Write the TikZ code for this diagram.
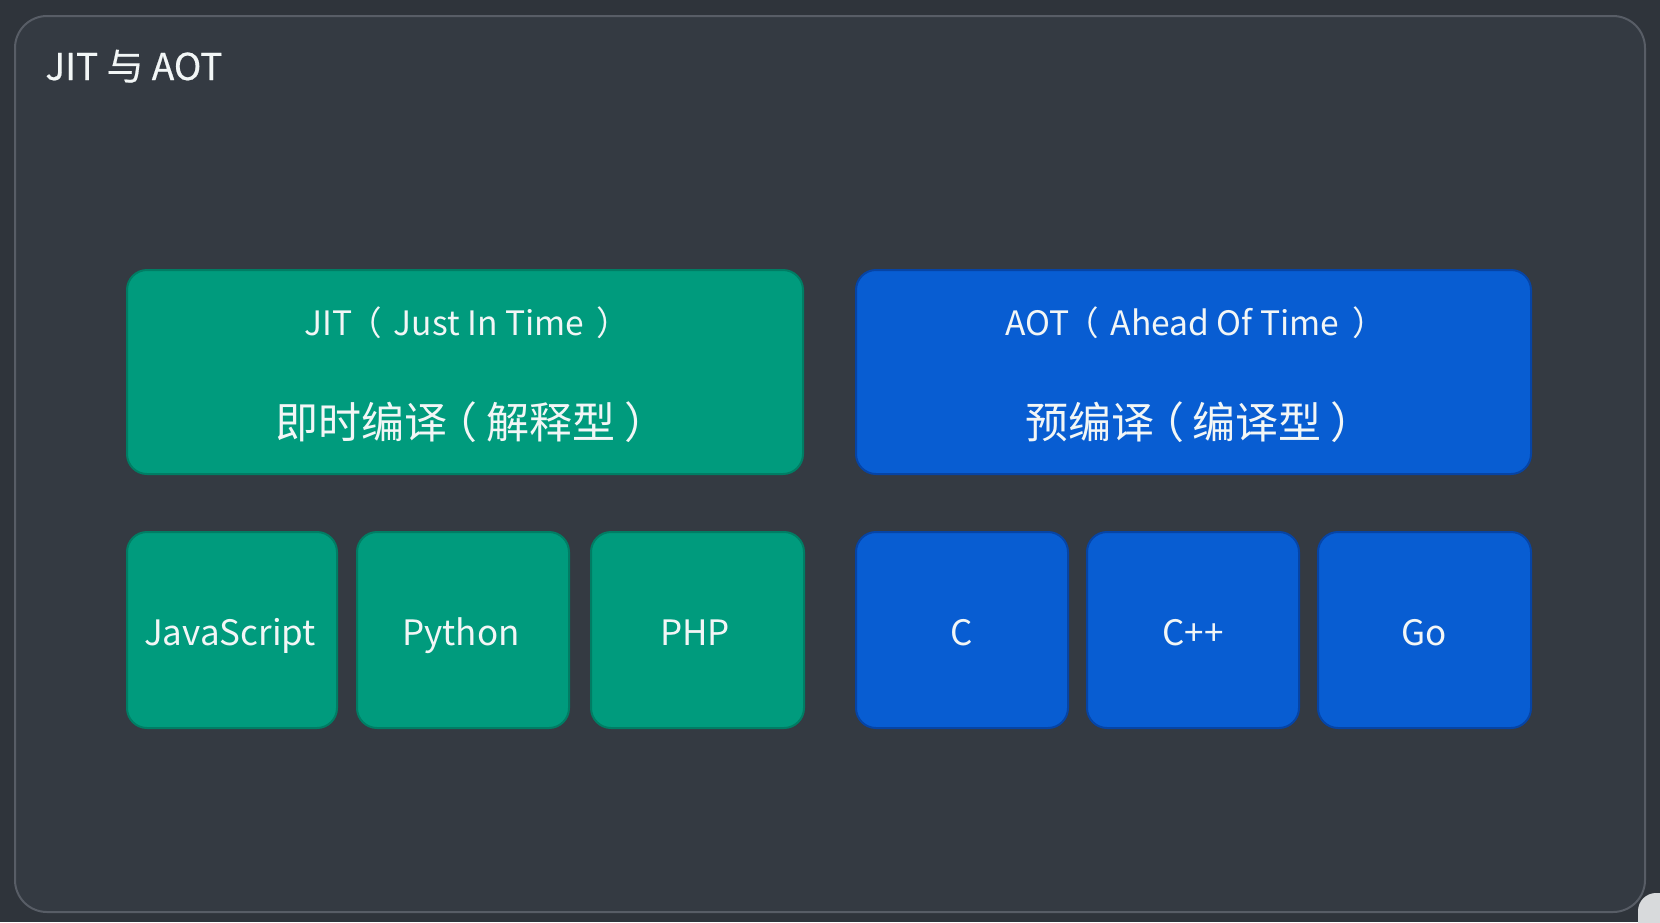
\documentclass[tikz,border=0pt]{standalone}
\usepackage{fontspec}
\setmainfont{Noto Sans CJK SC}
\newfontfamily\titlefont[FakeBold=0.5]{Noto Sans CJK SC}
% full-width parentheses with their ink centred, as the picture shows them
\newcommand{\elp}{\kern-0.12em（\kern0.12em}
\newcommand{\erp}{\kern0.15em）\kern-0.15em}
\newcommand{\zlp}{\kern-0.3em（\kern0.2em}
\newcommand{\zrp}{\kern0.2em）\kern-0.3em}
\definecolor{outerbg}{RGB}{47,52,59}
\definecolor{innerbg}{RGB}{52,58,66}
\definecolor{framec}{RGB}{88,93,102}
\definecolor{jitgreen}{RGB}{0,155,125}
\definecolor{jitedge}{RGB}{0,125,100}
\definecolor{aotblue}{RGB}{8,93,210}
\definecolor{aotedge}{RGB}{6,68,165}
\definecolor{txt}{RGB}{242,246,246}
\definecolor{blob}{RGB}{216,218,220}
\tikzset{
  px/.style={x=0.5pt,y=-0.5pt},
  jitbox/.style={fill=jitgreen,draw=jitedge,line width=1pt,rounded corners=10pt},
  aotbox/.style={fill=aotblue,draw=aotedge,line width=1pt,rounded corners=10pt},
  lbl/.style={text=txt,inner sep=0pt,anchor=base},
  en/.style={lbl,font=\fontsize{16.8}{20}\selectfont},
  zh/.style={lbl,font=\fontsize{21.5}{24}\selectfont},
  lang/.style={lbl,font=\fontsize{17.5}{20}\selectfont},
}
\begin{document}
\begin{tikzpicture}[px]
\useasboundingbox (0,0) rectangle (1660,922);
\fill[outerbg] (0,0) rectangle (1660,922);
\begin{scope}
\clip (0,0) rectangle (1660,922);
\fill[blob,rounded corners=9pt] (1638,893) rectangle (1720,980);
\end{scope}
\draw[framec,fill=innerbg,line width=1pt,rounded corners=16pt] (15,16) rectangle (1645,912);
\node[lbl,anchor=base west,font=\titlefont\fontsize{18.5}{20}\selectfont] (title) at (45,80) {JIT 与 AOT};
% top boxes
\path[jitbox] (127,270) rectangle (803,474);
\path[aotbox] (856,270) rectangle (1531,474);
\node[en] (jit1) at (465,335) {JIT\elp{} Just In Time \erp};
\node[zh] (jit2) at (465,438) {即时编译\zlp{}解释型\zrp};
\node[en] (aot1) at (1193,335) {AOT\elp{} Ahead Of Time \erp};
\node[zh] (aot2) at (1193,438) {预编译\zlp{}编译型\zrp};
% bottom boxes
\path[jitbox] (127,532) rectangle (337,728);
\path[jitbox] (357,532) rectangle (569,728);
\path[jitbox] (591,532) rectangle (804,728);
\path[aotbox] (856,532) rectangle (1068,728);
\path[aotbox] (1087,532) rectangle (1299,728);
\path[aotbox] (1318,532) rectangle (1531,728);
\node[lang] (js) at (230,645) {JavaScript};
\node[lang] (py) at (461,645) {Python};
\node[lang] (php) at (695,645) {PHP};
\node[lang] (c) at (962,645) {C};
\node[lang] (cpp) at (1193,645) {C++};
\node[lang] (go) at (1424,645) {Go};
\end{tikzpicture}
\end{document}
